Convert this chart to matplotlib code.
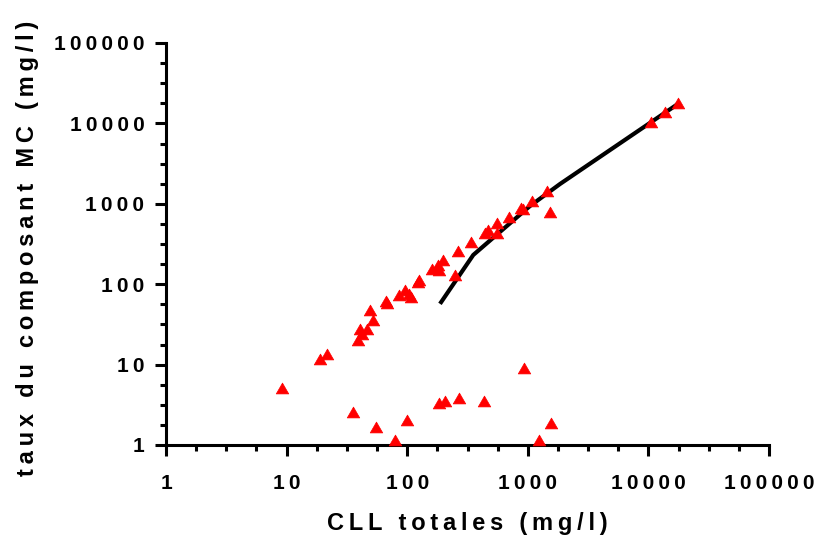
import numpy as np
import matplotlib
matplotlib.use("Agg")
import matplotlib.pyplot as plt
from matplotlib.path import Path
from matplotlib.ticker import FixedLocator, FixedFormatter

# scatter: CLL totales vs taux du composant MC (mg/l)
cll = [9.1, 18.9, 21.5, 39.1, 40.6, 42.2, 46.7, 49.2, 52.4, 66.7, 68,
       85.5, 95.9, 104, 107, 126, 124, 160, 181, 185, 199, 249, 265,
       336, 442, 471, 552, 559, 698, 873, 918, 1090, 1452, 1528,
       10440, 13740, 17700,
       35.7, 55, 78.8, 99, 182, 206, 267, 436, 936, 1231, 1549]
mc = [5.07, 11.6, 13.5, 20.2, 27.5, 23.8, 27.5, 47.8, 35.9, 61.8, 58,
      73.4, 84.7, 75.5, 68.7, 113, 108, 153, 173, 150, 200, 130, 261,
      338, 430, 472, 430, 572, 691, 879, 853, 1083, 1456, 798,
      10400, 13740, 17800,
      2.6, 1.69, 1.15, 2.05, 3.3, 3.56, 3.81, 3.49, 9.16, 1.15, 1.9]

# fitted curve
fit_x = [187, 353, 1043, 1849, 17700]
fit_y = [57, 231, 939, 1763, 17600]

decades = [1, 10, 100, 1000, 10000, 100000]


def spaced(s):
    # Prism-style letter spacing (thin spaces between characters)
    return "\u2009".join(s)


plt.rcParams["font.family"] = ["Liberation Sans", "DejaVu Sans"]
plt.rcParams["font.weight"] = "bold"

fig = plt.figure(figsize=(8.14, 5.4), dpi=100)
ax = fig.add_axes([166 / 814, 1 - 445 / 540, 603 / 814, 402 / 540])

ax.plot(fit_x, fit_y, color="black", lw=3, solid_capstyle="butt", zorder=2)

tri = Path([(-1, -0.866), (1, -0.866), (0, 0.866), (-1, -0.866)],
           [Path.MOVETO, Path.LINETO, Path.LINETO, Path.CLOSEPOLY])
ax.plot(cll, mc, ls="none", marker=tri, ms=9, color="#ff0000",
        mec="#ff0000", mew=0.5, zorder=3, clip_on=False)

ax.set_xscale("log")
ax.set_yscale("log")
ax.set_xlim(1, 100000)
ax.set_ylim(1, 100000)

minor = [10 ** (d + f) for d in range(5) for f in (0.25, 0.5, 0.75)]
labels = [spaced(str(v)) for v in decades]
for axis in (ax.xaxis, ax.yaxis):
    axis.set_major_locator(FixedLocator(decades))
    axis.set_major_formatter(FixedFormatter(labels))
    axis.set_minor_locator(FixedLocator(minor))
    axis.set_minor_formatter(FixedFormatter([]))

for side in ("top", "right"):
    ax.spines[side].set_visible(False)
for side in ("left", "bottom"):
    ax.spines[side].set_linewidth(2.2)

ax.tick_params(which="major", length=8, width=2.2, labelsize=15)
ax.tick_params(which="minor", length=4.5, width=2.2)
ax.tick_params(axis="x", which="major", pad=13)
ax.tick_params(axis="y", which="major", pad=7.5)
for lbl in ax.get_xticklabels() + ax.get_yticklabels():
    lbl.set_fontweight("bold")

ax.set_xlabel(spaced("CLL totales (mg/l)"), fontsize=17, fontweight="bold",
              va="center")
ax.set_ylabel(spaced("taux du composant MC (mg/l)"), fontsize=17,
              fontweight="bold", va="center")
ax.xaxis.set_label_coords(0.50, -0.195)
ax.yaxis.set_label_coords(-0.229, 0.49)

fig.savefig("out.png", dpi=100)
